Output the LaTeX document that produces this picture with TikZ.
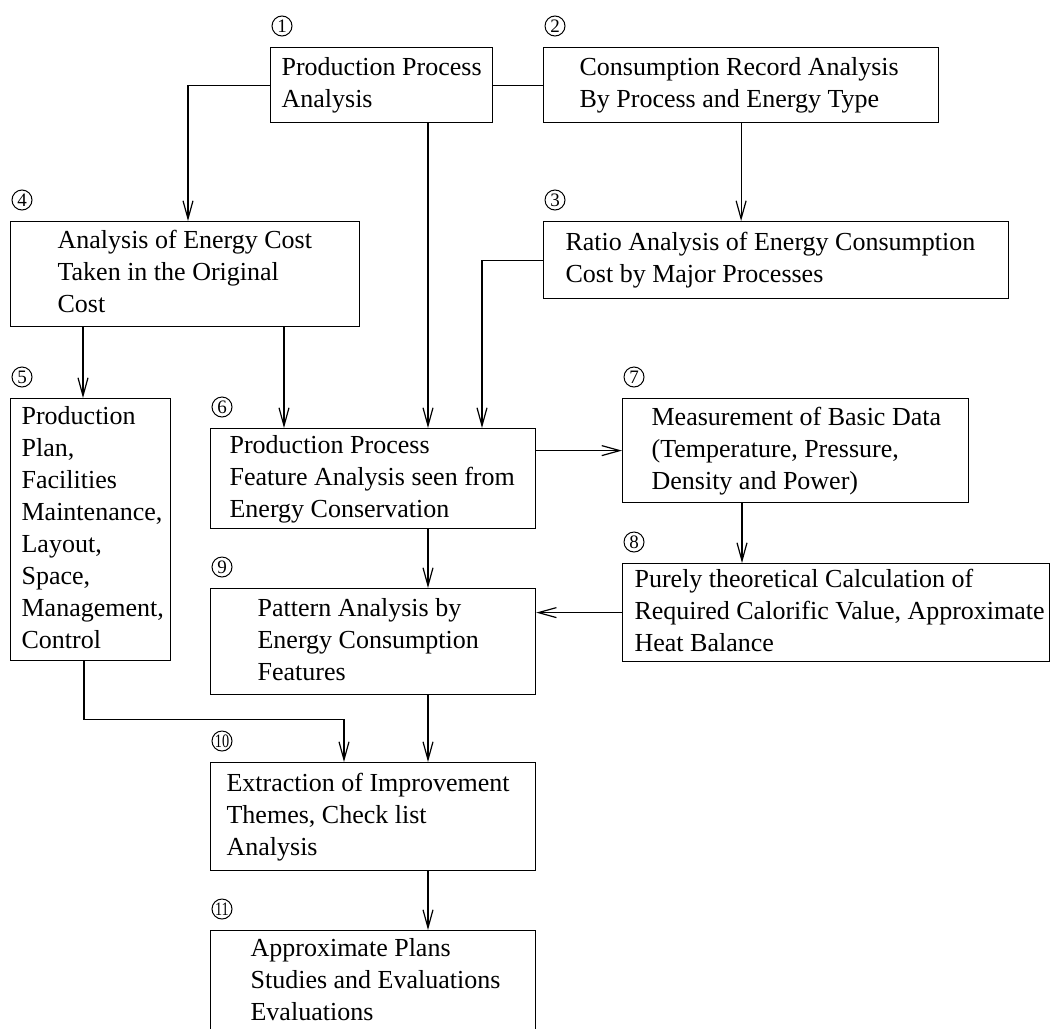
\documentclass[tikz,border=0pt]{standalone}
\usepackage{fontspec}
\setmainfont{Liberation Serif}
\usepackage{graphicx}
\usetikzlibrary{arrows.meta}

\newcommand{\boxtext}[3]{\makebox[#1][l]{\hspace*{#2}\begin{tabular}{@{}l@{}}#3\end{tabular}}}

\begin{document}
\begin{tikzpicture}[x=0.5pt,y=-0.5pt,line width=0.6pt,
    box/.style={draw, inner sep=0pt, anchor=north west, font=\fontsize{13}{16}\selectfont},
    num/.style={draw, circle, line width=0.5pt, inner sep=0pt, minimum size=10pt, font=\fontsize{9.5}{9.5}\selectfont},
    arr/.style={-{Straight Barb[length=9pt,width=5pt]}}]
    \clip (0,0) rectangle (1053,1028);

    % Boxes
    \node[box, minimum height=37.5pt] (b1) at (270,47) {\boxtext{111pt}{5.5pt}{Production Process\\Analysis}};
    \node[box, minimum height=37.5pt] (b2) at (543,47) {\boxtext{197.5pt}{18pt}{Consumption Record Analysis\\By Process and Energy Type}};
    \node[box, minimum height=38.5pt] (b3) at (543,221) {\boxtext{232.5pt}{11pt}{Ratio Analysis of Energy Consumption\\Cost by Major Processes}};
    \node[box, minimum height=52.5pt] (b4) at (10,221) {\boxtext{174.5pt}{23.5pt}{Analysis of Energy Cost\\Taken in the Original\\Cost}};
    \node[box, minimum height=131pt] (b5) at (10,398) {\boxtext{80pt}{5.5pt}{Production\\Plan,\\Facilities\\Maintenance,\\Layout,\\Space,\\Management,\\Control}};
    \node[box, minimum height=50pt] (b6) at (210,428) {\boxtext{162.5pt}{9.5pt}{Production Process\\Feature Analysis seen from\\Energy Conservation}};
    \node[box, minimum height=52pt] (b7) at (622,398) {\boxtext{173pt}{14.5pt}{Measurement of Basic Data\\(Temperature, Pressure,\\Density and Power)}};
    \node[box, minimum height=49pt] (b8) at (622,563) {\boxtext{213.5pt}{6pt}{Purely theoretical Calculation of\\Required Calorific Value, Approximate\\Heat Balance}};
    \node[box, minimum height=53pt] (b9) at (210,588) {\boxtext{162.5pt}{23.5pt}{Pattern Analysis by\\Energy Consumption\\Features}};
    \node[box, minimum height=54pt] (b10) at (210,762) {\boxtext{162.5pt}{8pt}{Extraction of Improvement\\Themes, Check list\\Analysis}};
    \node[box, minimum height=51pt] (b11) at (210,930) {\boxtext{162.5pt}{20pt}{Approximate Plans\\Studies and Evaluations\\Evaluations}};

    % Step numbers
    \foreach \n in {1,...,9}
        \node[num] (n\n) at ([xshift=6pt,yshift=10.5pt]b\n.north west) {\n};
    \node[num] (n10) at ([xshift=6pt,yshift=10.5pt]b10.north west) {\scalebox{0.75}[1]{10}};
    \node[num] (n11) at ([xshift=6pt,yshift=10.5pt]b11.north west) {\scalebox{0.75}[1]{11}};

    % Flow lines
    \draw[arr] (b1.west) -| ([xshift=89pt]b4.north west);
    \draw (b1.east) -- (b2.west);
    \draw[arr] ([xshift=79pt]b1.south west) coordinate (p1) -- (p1 |- b6.north);
    \draw[arr] (b2.south) -- (b2.south |- b3.north);
    \draw[arr] (b3.west) -| ([xshift=136pt]b6.north west);
    \draw[arr] ([xshift=36.5pt]b4.south west) coordinate (p2) -- (p2 |- b5.north);
    \draw[arr] ([xshift=137pt]b4.south west) coordinate (p3) -- (p3 |- b6.north);
    \draw[arr] (b7.west -| b6.east) -- (b7.west);
    \draw[arr] ([xshift=60pt]b7.south west) coordinate (p4) -- (p4 |- b8.north);
    \draw[arr] (b8.west) -- (b8.west -| b9.east);
    \draw[arr] ([xshift=109pt]b6.south west) coordinate (p5) -- (p5 |- b9.north);
    \draw[arr] ([xshift=37pt]b5.south west) -- ++(0,-29pt) -| ([xshift=67pt]b10.north west);
    \draw[arr] ([xshift=109pt]b9.south west) coordinate (p6) -- (p6 |- b10.north);
    \draw[arr] ([xshift=109pt]b10.south west) coordinate (p7) -- (p7 |- b11.north);
\end{tikzpicture}
\end{document}
